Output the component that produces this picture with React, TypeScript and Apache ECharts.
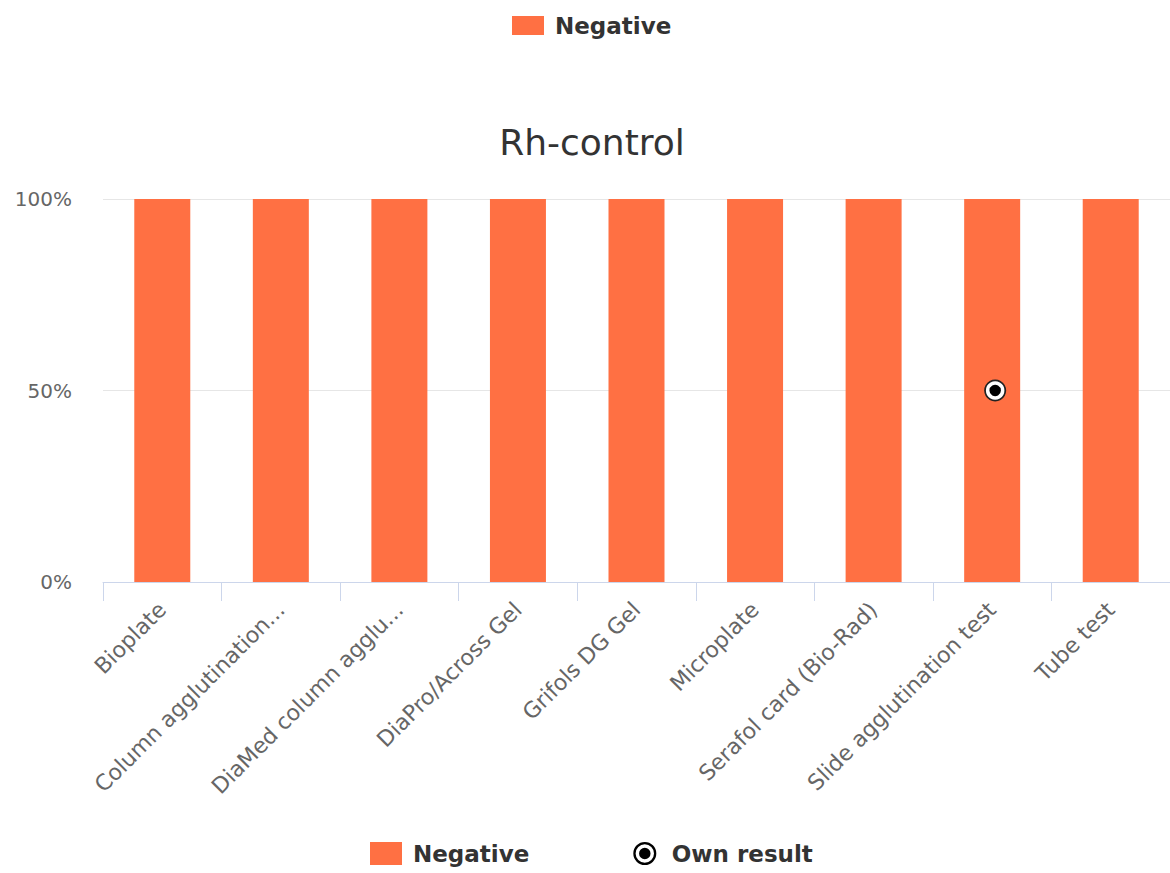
import React, { useEffect, useRef } from "react";
import * as echarts from "echarts";

const categories = [
  "Bioplate",
  "Column agglutination...",
  "DiaMed column agglu...",
  "DiaPro/Across Gel",
  "Grifols DG Gel",
  "Microplate",
  "Serafol card (Bio-Rad)",
  "Slide agglutination test",
  "Tube test",
];
const negativeValues = [100, 100, 100, 100, 100, 100, 100, 100, 100];
const ownResultCategory = "Slide agglutination test";
const ownResultValue = 50;
const yTicks = [0, 50, 100];

const ringIcon =
  "path://M10,0 A10,10 0 1,1 10,20 A10,10 0 1,1 10,0 Z M10,2 A8,8 0 1,0 10,18 A8,8 0 1,0 10,2 Z M10,5 A5,5 0 1,1 10,15 A5,5 0 1,1 10,5 Z";

export default function App() {
  const ref = useRef<HTMLDivElement>(null);
  useEffect(() => {
    if (!ref.current) return;
    const chart = echarts.init(ref.current, undefined, { renderer: "svg" });
    const ownData = categories.map((c) => (c === ownResultCategory ? ownResultValue : null));
    const font = "DejaVu Sans";
    const legendText = {
      fontFamily: font,
      fontSize: 23,
      fontWeight: "bold",
      color: "#333",
      padding: [0, 0, 0, 6],
    };
    chart.setOption({
      animation: false,
      textStyle: { fontFamily: font },
      title: {
        text: "Rh-control",
        left: 587,
        textAlign: "center",
        top: 119,
        textStyle: { fontFamily: font, fontSize: 36, fontWeight: "normal", color: "#333" },
      },
      legend: [
        {
          data: [{ name: "Negative", icon: "rect" }],
          top: 9,
          left: 507,
          itemWidth: 32,
          itemHeight: 19,
          textStyle: legendText,
        },
        {
          data: [
            { name: "Negative", icon: "rect" },
            {
              name: "Own result",
              icon: ringIcon,
              itemStyle: { color: "#000", borderWidth: 0, opacity: 1 },
            },
          ],
          top: 837,
          left: 365,
          itemWidth: 32,
          itemHeight: 23,
          itemGap: 104,
          textStyle: legendText,
        },
      ],
      grid: { left: 103, right: 0, top: 199, bottom: 291, containLabel: false },
      xAxis: {
        type: "category",
        data: categories,
        axisLine: { lineStyle: { color: "#ccd6eb" } },
        axisTick: { show: true, length: 19, lineStyle: { color: "#ccd6eb" } },
        axisLabel: {
          rotate: 45,
          interval: 0,
          margin: 24,
          fontFamily: font,
          fontSize: 22,
          color: "#666",
        },
      },
      yAxis: {
        type: "value",
        min: yTicks[0],
        max: yTicks[yTicks.length - 1],
        interval: 50,
        axisLine: { show: false },
        axisTick: { show: false },
        splitLine: { lineStyle: { color: "#e6e6e6" } },
        axisLabel: {
          formatter: "{value}%",
          margin: 31,
          fontFamily: font,
          fontSize: 20,
          color: "#666",
        },
      },
      series: [
        {
          name: "Negative",
          type: "bar",
          data: negativeValues,
          barWidth: 56,
          itemStyle: { color: "#FF7043" },
        },
        {
          name: "Own result ring",
          type: "scatter",
          data: ownData,
          symbol: "circle",
          symbolSize: 22,
          symbolOffset: [3, 0],
          itemStyle: { color: "#222", opacity: 1 },
          z: 3,
        },
        {
          name: "Own result",
          type: "scatter",
          data: ownData,
          symbol: "circle",
          symbolSize: 15,
          symbolOffset: [3, 0],
          itemStyle: { color: "#000", borderColor: "#fff", borderWidth: 3.5, opacity: 1 },
          z: 4,
        },
      ],
    });
    return () => chart.dispose();
  }, []);
  return (
    <div
      ref={ref}
      style={{ position: "fixed", left: 0, top: 0, width: 1170, height: 873, background: "#fff" }}
    />
  );
}
